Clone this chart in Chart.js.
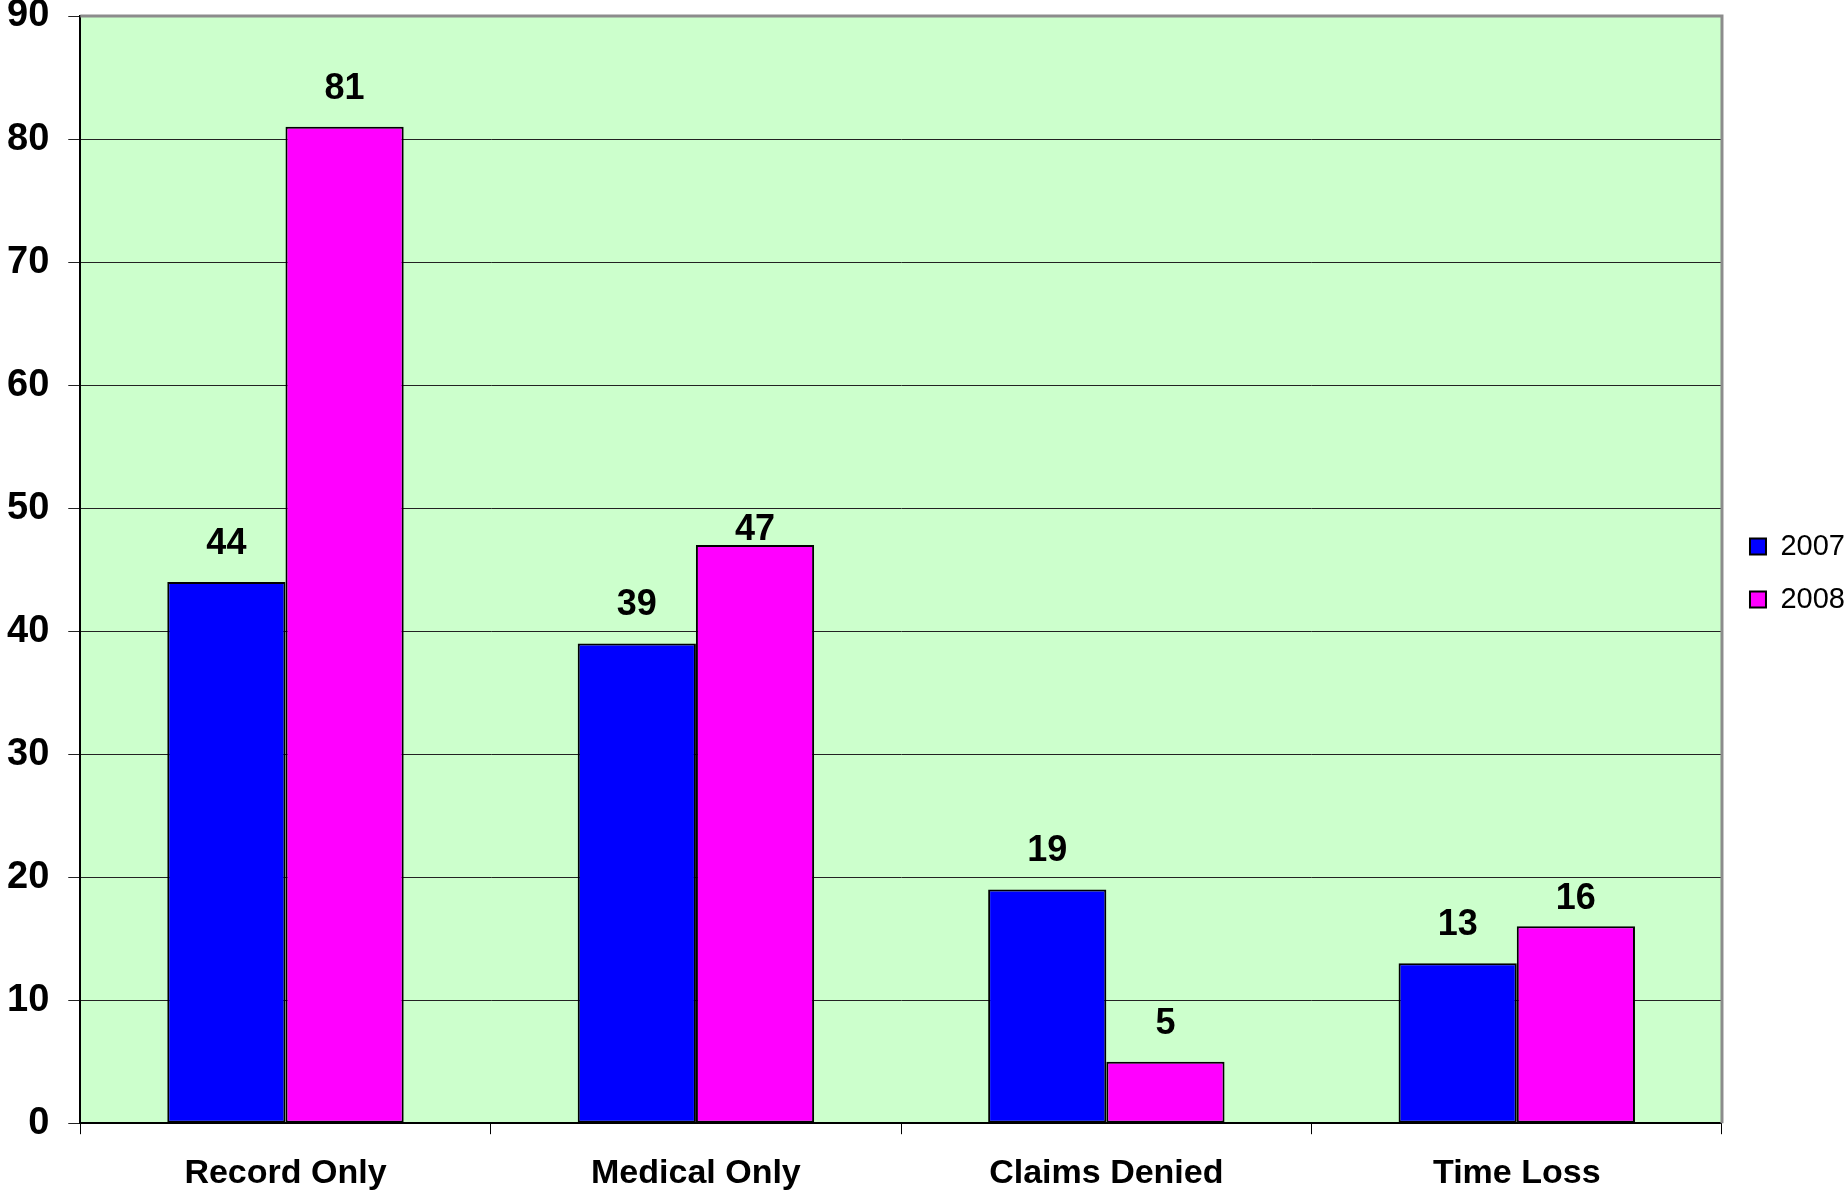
<!DOCTYPE html>
<html>
<head>
<meta charset="utf-8">
<title>Claims 2007 vs 2008</title>
<script src="https://cdn.jsdelivr.net/npm/chart.js@4.4.0/dist/chart.umd.min.js"></script>
<style>
    html, body { margin: 0; padding: 0; background: #fff; }
    #wrap { width: 1846px; height: 1192px; }
</style>
</head>
<body>
<div id="wrap"><canvas id="claimsChart" width="1846" height="1192"></canvas></div>
<script>
(function () {
    'use strict';

    var categories = ['Record Only', 'Medical Only', 'Claims Denied', 'Time Loss'];
    var values2007 = [44, 39, 19, 13];
    var values2008 = [81, 47, 5, 16];
    var seriesNames = ['2007', '2008'];
    var yTicks = [0, 10, 20, 30, 40, 50, 60, 70, 80, 90];

    var FONT = '"Liberation Sans", Arial, sans-serif';

    // Green plot background + grey top/right frame
    var plotFrame = {
        id: 'plotFrame',
        beforeDraw: function (chart) {
            var a = chart.chartArea, ctx = chart.ctx;
            ctx.save();
            ctx.fillStyle = '#ccffcc';
            ctx.fillRect(a.left, a.top, a.right - a.left, a.bottom - a.top);
            ctx.restore();
        },
        afterDraw: function (chart) {
            var a = chart.chartArea, ctx = chart.ctx;
            ctx.save();
            ctx.strokeStyle = '#8c8c8c';
            ctx.lineWidth = 3;
            ctx.beginPath();
            ctx.moveTo(a.left, a.top);
            ctx.lineTo(a.right, a.top);
            ctx.lineTo(a.right, a.bottom);
            ctx.stroke();
            ctx.restore();
        }
    };

    // nudge the legend a bit, like the original
    var legendNudge = {
        id: 'legendNudge',
        afterLayout: function (chart) {
            var lg = chart.legend;
            if (!lg) return;
            lg.left += 4; lg.right += 4;
            lg.top -= 32; lg.bottom -= 32;
        }
    };

    // Value labels above each bar; a label that would sit on a gridline
    // is dropped just below that line (as in the original)
    var barValues = {
        id: 'barValues',
        afterDatasetsDraw: function (chart) {
            var ctx = chart.ctx;
            var yScale = chart.scales.y;
            var gridYs = yScale.ticks.map(function (t) { return yScale.getPixelForValue(t.value); });
            var capH = 26;
            ctx.save();
            ctx.font = 'bold 36px ' + FONT;
            ctx.fillStyle = '#000';
            ctx.textAlign = 'center';
            ctx.textBaseline = 'alphabetic';
            chart.data.datasets.forEach(function (ds, di) {
                chart.getDatasetMeta(di).data.forEach(function (bar, i) {
                    var base = bar.y - 28;
                    gridYs.forEach(function (gy) {
                        if (gy >= base - capH - 2 && gy <= base + 2) base = gy + 6 + capH;
                    });
                    ctx.fillText(String(ds.data[i]), bar.x, base);
                });
            });
            ctx.restore();
        }
    };

    var barStyle = {
        borderColor: '#000',
        borderWidth: 2,
        borderSkipped: false,
        categoryPercentage: 0.576,
        barPercentage: 1
    };

    new Chart(document.getElementById('claimsChart'), {
        type: 'bar',
        data: {
            labels: categories,
            datasets: [
                Object.assign({ label: seriesNames[0], data: values2007, backgroundColor: '#0000ff' }, barStyle),
                Object.assign({ label: seriesNames[1], data: values2008, backgroundColor: '#ff00ff' }, barStyle)
            ]
        },
        options: {
            responsive: false,
            animation: false,
            layout: { padding: { left: -12, right: -5, top: 16, bottom: -2 } },
            plugins: {
                tooltip: { enabled: false },
                legend: {
                    position: 'right',
                    labels: {
                        boxWidth: 16,
                        boxHeight: 16,
                        padding: 24,
                        color: '#000',
                        font: { family: FONT, size: 29 }
                    }
                }
            },
            scales: {
                x: {
                    offset: true,
                    afterFit: function (scale) {
                        // chart.js reserves the tick padding twice; drop the bottom copy
                        scale.height -= scale.options.ticks.padding;
                    },
                    grid: {
                        offset: true,
                        drawOnChartArea: false,
                        drawTicks: true,
                        tickLength: 11,
                        color: '#000',
                        lineWidth: 1
                    },
                    border: { color: '#000', width: 2 },
                    ticks: {
                        color: '#000',
                        padding: 19,
                        font: { family: FONT, size: 34, weight: 'bold' }
                    }
                },
                y: {
                    min: 0,
                    max: 90,
                    afterBuildTicks: function (scale) {
                        scale.ticks = yTicks.map(function (v) { return { value: v }; });
                    },
                    afterFit: function (scale) {
                        // let the 90 / 0 labels hang over the plot edges
                        scale.paddingTop = 0;
                        scale.paddingBottom = 0;
                    },
                    grid: {
                        color: '#222',
                        lineWidth: 1,
                        tickLength: 12
                    },
                    border: { color: '#000', width: 2 },
                    ticks: {
                        color: '#000',
                        padding: 19,
                        font: { family: FONT, size: 38, weight: 'bold' }
                    }
                }
            }
        },
        plugins: [plotFrame, legendNudge, barValues]
    });
})();
</script>
</body>
</html>
